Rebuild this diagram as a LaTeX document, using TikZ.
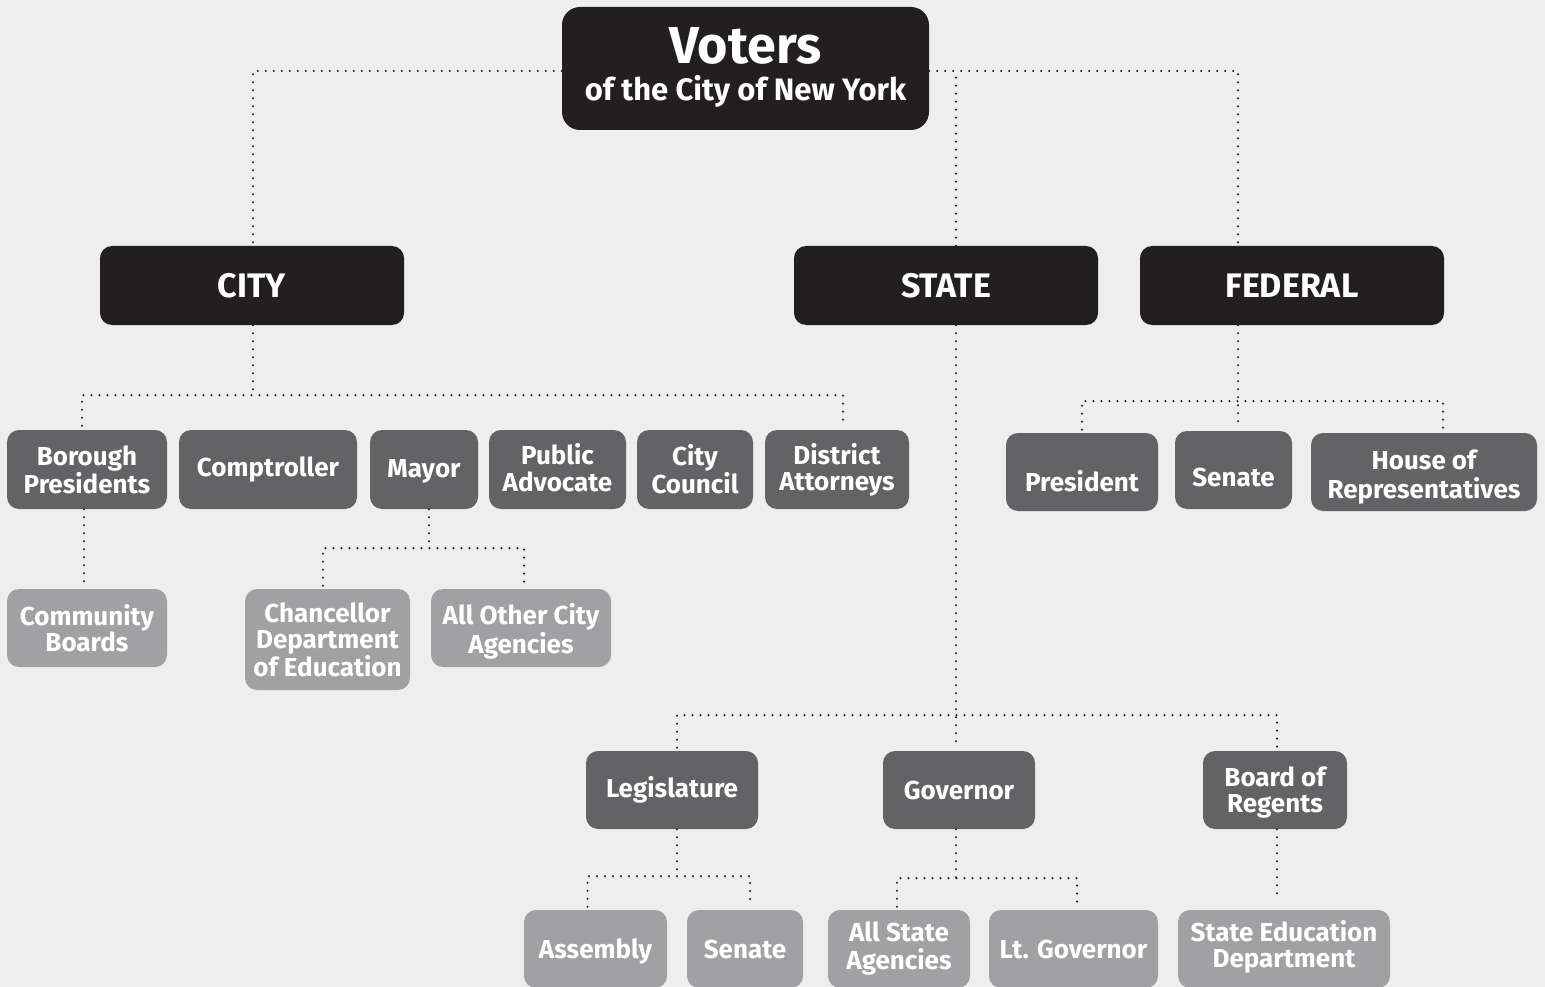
\documentclass[tikz,border=0pt]{standalone}
\usepackage{fontspec}
\setmainfont{Fira Sans}
\definecolor{bgc}{HTML}{EEEEEE}
\definecolor{blk}{HTML}{231F20}
\definecolor{dkg}{HTML}{636366}
\definecolor{ltg}{HTML}{A1A1A4}
\tikzset{
  boxbase/.style={rounded corners=12pt, inner sep=0pt, text=white, align=center, font=\bfseries\fontsize{26}{26}\selectfont},
  topbox/.style={boxbase, fill=blk, rounded corners=18pt, font=\bfseries\fontsize{31}{37}\selectfont},
  lvlbox/.style={boxbase, fill=blk, font=\bfseries\fontsize{34}{34}\selectfont},
  midbox/.style={boxbase, fill=dkg},
  lowbox/.style={boxbase, fill=ltg},
  dotline/.style={draw=blk, line width=2.3pt, dash pattern=on 0pt off 8pt, line cap=round}
}
\newcommand\bx[7]{\node[#6, minimum width={#4-#2}, minimum height={#5-#3}] (#1) at ({(#2+#4)/2},{(#3+#5)/2}) {#7};}
\newcommand\dn[2]{\raisebox{-#1pt}[\height][\depth]{#2}}
\newcommand\dnt[2]{\raisebox{-#1pt}[\height][\depth]{\begin{tabular}{@{}c@{}}#2\end{tabular}}}
\begin{document}
\begin{tikzpicture}[x=1pt,y=-1pt]
\fill[bgc] (0,0) rectangle (1545,987);
\useasboundingbox (0,0) rectangle (1545,987);
\begin{scope}
\clip (0,0) rectangle (1545,987);
% top
\bx{voters}{562}{7}{929}{130}{topbox, text depth=9pt}{{\fontsize{52}{52}\selectfont Voters}\\of the City of New York}
% level 1
\bx{city}{100}{246}{404}{325}{lvlbox}{CITY}
\bx{state}{794}{246}{1098}{325}{lvlbox}{STATE}
\bx{federal}{1140}{246}{1444}{325}{lvlbox}{FEDERAL}
% city row
\bx{bp}{7}{430}{167}{509}{midbox}{Borough\\Presidents}
\bx{comp}{179}{430}{357}{509}{midbox}{Comptroller}
\bx{mayor}{370}{430}{478}{509}{midbox}{\dn{2}{Mayor}}
\bx{pa}{489}{430}{626}{509}{midbox}{\dnt{2}{Public\\Advocate}}
\bx{cc}{637}{430}{753}{509}{midbox}{City\\Council}
\bx{da}{765}{430}{909}{509}{midbox}{District\\Attorneys}
\bx{cb}{7}{589}{167}{667}{lowbox}{Community\\Boards}
\bx{chan}{245}{589}{410}{690}{lowbox}{Chancellor\\Department\\of Education}
\bx{aoca}{431}{589}{611}{667}{lowbox}{\dnt{4}{All Other City\\Agencies}}
% federal row
\bx{pres}{1006}{433}{1158}{511}{midbox}{\dn{9}{President}}
\bx{fsen}{1175}{431}{1292}{509}{midbox}{\dn{7}{Senate}}
\bx{house}{1311}{433}{1537}{511}{midbox}{\dnt{6}{House of\\Representatives}}
% state row
\bx{leg}{586}{751}{758}{829}{midbox}{Legislature}
\bx{gov}{883}{751}{1035}{829}{midbox}{Governor}
\bx{regents}{1203}{751}{1347}{829}{midbox}{\dnt{4}{Board of\\Regents}}
\bx{asm}{524}{910}{667}{988}{lowbox}{\dn{3}{Assembly}}
\bx{ssen}{687}{910}{803}{988}{lowbox}{Senate}
\bx{asa}{828}{910}{970}{988}{lowbox}{All State\\[2pt]Agencies}
\bx{ltgov}{989}{910}{1158}{988}{lowbox}{Lt. Governor}
\bx{sed}{1178}{910}{1390}{988}{lowbox}{\dnt{-1}{State Education\\Department}}
\end{scope}
% connectors: voters
\coordinate (vL) at ([yshift=-2.5]voters.west);
\coordinate (vR) at ([yshift=-2.5]voters.east);
\coordinate (cityT) at ([xshift=1]city.north);
\coordinate (stateT) at ([xshift=10]state.north);
\coordinate (fedT) at ([xshift=-54]federal.north);
\draw[dotline] (vL) -| (cityT);
\draw[dotline] (vR) -| (fedT);
\draw[dotline] (stateT) -- (stateT |- vR);
% city
\coordinate (cityB) at ([xshift=1,yshift=-70]city.south);
\coordinate (bpT) at ([xshift=-5,yshift=4]bp.north);
\coordinate (daT) at ([xshift=6,yshift=4]da.north);
\draw[dotline] ([xshift=1]city.south) -- (cityB);
\draw[dotline] (bpT) |- (daT |- cityB) -- (daT);
\draw[dotline] ([xshift=-3]bp.south) -- ([xshift=-3,yshift=4]cb.north);
% mayor
\coordinate (myB) at ([xshift=5]mayor.south);
\coordinate (chT) at ([xshift=-4.5,yshift=3]chan.north);
\coordinate (aoT) at ([xshift=3,yshift=3]aoca.north);
\coordinate (myBus) at ([yshift=-39]mayor.south);
\draw[dotline] (myB) -- (myB |- myBus);
\draw[dotline] (chT) |- (aoT |- myBus) -- (aoT);
% federal
\coordinate (fedB) at ([xshift=-54]federal.south);
\coordinate (fedBus) at ([yshift=-76]federal.south);
\coordinate (prT) at ([yshift=3]pres.north);
\coordinate (hoT) at ([xshift=19,yshift=3]house.north);
\draw[dotline] (fedB) -- ([yshift=3]fedB |- fsen.north);
\draw[dotline] (prT) |- (hoT |- fedBus) -- (hoT);
% state
\coordinate (stB) at ([xshift=10]state.south);
\coordinate (stBus) at ([yshift=-390]state.south);
\coordinate (lgT) at ([xshift=5,yshift=3]leg.north);
\coordinate (rgT) at ([xshift=2,yshift=3]regents.north);
\draw[dotline] (stB) -- ([yshift=3]stB |- gov.north);
\draw[dotline] (lgT) |- (rgT |- stBus) -- (rgT);
% legislature
\coordinate (lgB) at ([xshift=5]leg.south);
\coordinate (lgBus) at ([yshift=-47]leg.south);
\coordinate (asT) at ([xshift=-8,yshift=3]asm.north);
\coordinate (snT) at ([xshift=5,yshift=3]ssen.north);
\draw[dotline] (lgB) -- (lgB |- lgBus);
\draw[dotline] (asT) |- (snT |- lgBus) -- (snT);
% governor
\coordinate (gvB) at ([xshift=-3]gov.south);
\coordinate (gvBus) at ([yshift=-49]gov.south);
\coordinate (saT) at ([xshift=-2,yshift=3]asa.north);
\coordinate (ltT) at ([xshift=3.5,yshift=3]ltgov.north);
\draw[dotline] (gvB) -- (gvB |- gvBus);
\draw[dotline] (saT) |- (ltT |- gvBus) -- (ltT);
% regents
\draw[dotline] ([xshift=2]regents.south) -- ([xshift=-7,yshift=10]sed.north);
\end{tikzpicture}
\end{document}
